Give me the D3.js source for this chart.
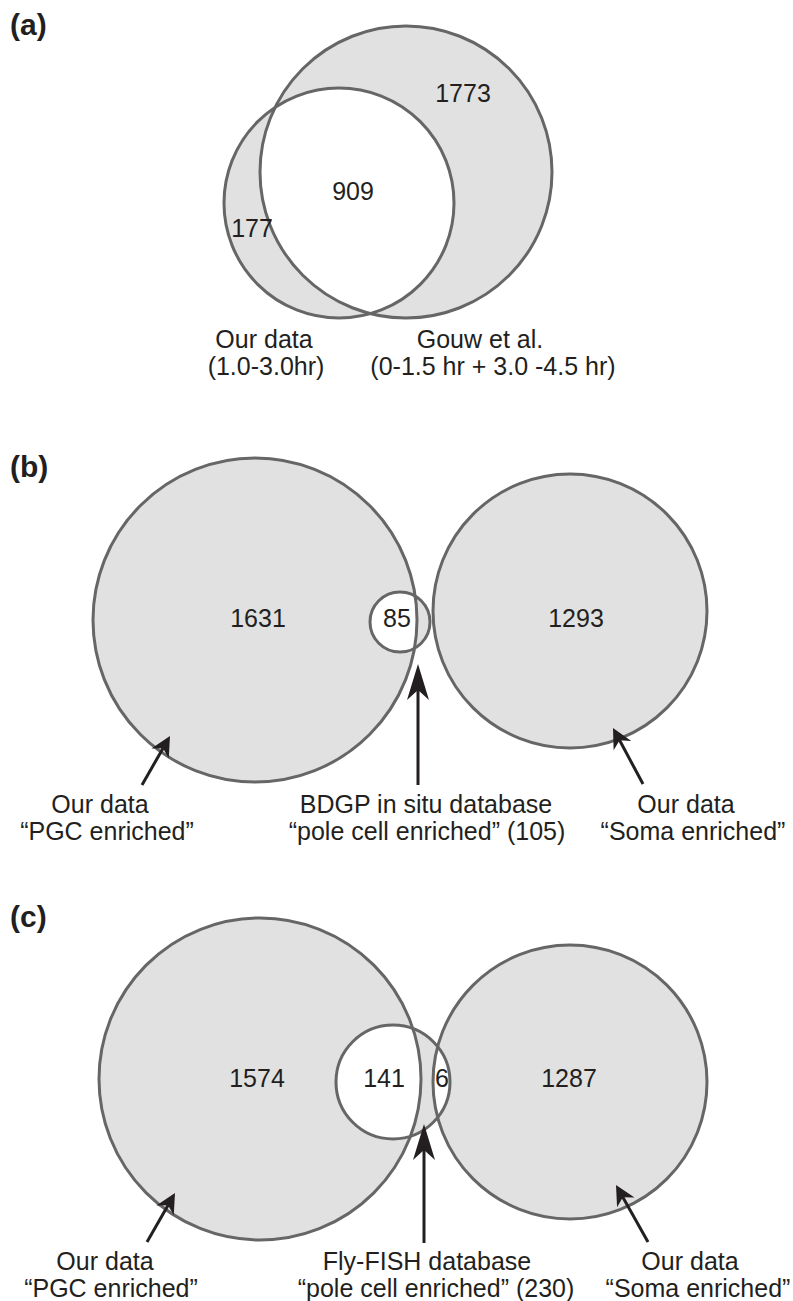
<!DOCTYPE html>
<html lang="en">
<head>
<meta charset="UTF-8">
<title>Venn comparisons</title>
<script src="https://d3js.org/d3.v7.min.js"></script>
<style>
    body { margin: 0; background: #fff; }
    svg { display: block; }
    text { font-family: "Liberation Sans", Arial, Helvetica, sans-serif; fill: #231f20; }
    .tag { font-weight: bold; font-size: 30px; }
    .count { font-size: 25px; text-anchor: middle; }
    .setlabel { font-size: 25px; text-anchor: middle; }
    .ring { fill: none; stroke: #666; stroke-width: 3px; }
    .arrow { stroke: #231f20; stroke-width: 3px; fill: none; }
    .head { fill: #231f20; stroke: none; }
</style>
</head>
<body>
<svg id="canvas" width="793" height="1301"></svg>
<script>
    // values
    const panelTags = ['(a)', '(b)', '(c)'];

    const countsA = [177, 909, 1773];
    const countsB = [1631, 85, 1293];
    const countsC = [1574, 141, 6, 1287];

    const labelsA = [['Our data', '(1.0-3.0hr)'],
                     ['Gouw et al.', '(0-1.5 hr + 3.0 -4.5 hr)']];
    const labelsB = [['Our data', '\u201cPGC enriched\u201d'],
                     ['BDGP in situ database', '\u201cpole cell enriched\u201d (105)'],
                     ['Our data', '\u201cSoma enriched\u201d']];
    const labelsC = [['Our data', '\u201cPGC enriched\u201d'],
                     ['Fly-FISH database', '\u201cpole cell enriched\u201d (230)'],
                     ['Our data', '\u201cSoma enriched\u201d']];

    // layout (pixels) - circles, where counts sit, label anchors, arrows
    const layout = [
        {
            tag: [10, 35],
            circles: [[406, 172, 146], [339, 203, 115]],
            countPos: [[252, 237], [353, 200], [463, 102]],
            labelX: [[264, 266], [480, 493]],
            labelY: 348,
            lineGap: 27,
            arrows: []
        },
        {
            tag: [10, 477],
            circles: [[255, 620, 162], [400, 622, 30], [570, 611, 137]],
            countPos: [[258, 627], [397, 627], [576, 627]],
            labelX: [[100, 107], [426, 427], [686, 693]],
            labelY: 813,
            lineGap: 27,
            arrows: [[142, 785, 170, 736, 20], [418, 785, 418, 664, 36], [643, 784, 613, 728, 20]]
        },
        {
            tag: [10, 927],
            circles: [[260, 1079, 161], [393, 1082, 57], [570, 1082, 137]],
            countPos: [[257, 1087], [384, 1087], [442, 1087], [569, 1087]],
            labelX: [[105, 111], [427, 436], [690, 698]],
            labelY: 1270,
            lineGap: 27,
            arrows: [[147, 1242, 175, 1193, 20], [424, 1243, 424, 1124, 36], [648, 1242, 616, 1185, 20]]
        }
    ];

    const panelCounts = [countsA, countsB, countsC];
    const panelLabels = [labelsA, labelsB, labelsC];

    let svg = d3.select('#canvas');

    function headPath(x1, y1, x2, y2, len){
        let dx = x2 - x1, dy = y2 - y1;
        let d = Math.hypot(dx, dy);
        let ux = dx / d, uy = dy / d;
        let nx = -uy, ny = ux;
        let hw = len > 25 ? 11 : 10;
        let notch = len > 25 ? 10 : 6;
        let bx = x2 - ux * len, by = y2 - uy * len;
        let p = d3.path();
        p.moveTo(x2, y2);
        p.lineTo(bx + nx * hw, by + ny * hw);
        p.lineTo(x2 - ux * (len - notch), y2 - uy * (len - notch));
        p.lineTo(bx - nx * hw, by - ny * hw);
        p.closePath();
        return p.toString();
    }

    layout.forEach(function(lay, i){
        let g = svg.append('g').attr('class', 'panel');

        // even-odd fill: overlaps come out white
        let fillPath = d3.path();
        lay.circles.forEach(function(c){
            fillPath.moveTo(c[0] + c[2], c[1]);
            fillPath.arc(c[0], c[1], c[2], 0, 2 * Math.PI);
            fillPath.closePath();
        });
        g.append('path')
            .attr('d', fillPath.toString())
            .attr('fill', '#e1e1e1')
            .attr('fill-rule', 'evenodd');

        g.selectAll('circle.ring')
            .data(lay.circles)
            .enter()
            .append('circle')
            .attr('class', 'ring')
            .attr('cx', d => d[0])
            .attr('cy', d => d[1])
            .attr('r', d => d[2]);

        g.selectAll('text.count')
            .data(panelCounts[i])
            .enter()
            .append('text')
            .attr('class', 'count')
            .attr('x', (d, j) => lay.countPos[j][0])
            .attr('y', (d, j) => lay.countPos[j][1])
            .text(d => d);

        // arrows
        lay.arrows.forEach(function(a){
            let dx = a[2] - a[0], dy = a[3] - a[1];
            let d = Math.hypot(dx, dy);
            let back = a[4] * 0.6;
            g.append('line')
                .attr('class', 'arrow')
                .attr('x1', a[0]).attr('y1', a[1])
                .attr('x2', a[2] - dx / d * back)
                .attr('y2', a[3] - dy / d * back);
            g.append('path')
                .attr('class', 'head')
                .attr('d', headPath(a[0], a[1], a[2], a[3], a[4]));
        });

        // two-line set labels, each line with its own centre
        panelLabels[i].forEach(function(lines, j){
            lines.forEach(function(line, k){
                g.append('text')
                    .attr('class', 'setlabel')
                    .attr('x', lay.labelX[j][k])
                    .attr('y', lay.labelY + k * lay.lineGap)
                    .text(line);
            });
        });

        g.append('text')
            .attr('class', 'tag')
            .attr('x', lay.tag[0])
            .attr('y', lay.tag[1])
            .text(panelTags[i]);
    });
</script>
</body>
</html>
